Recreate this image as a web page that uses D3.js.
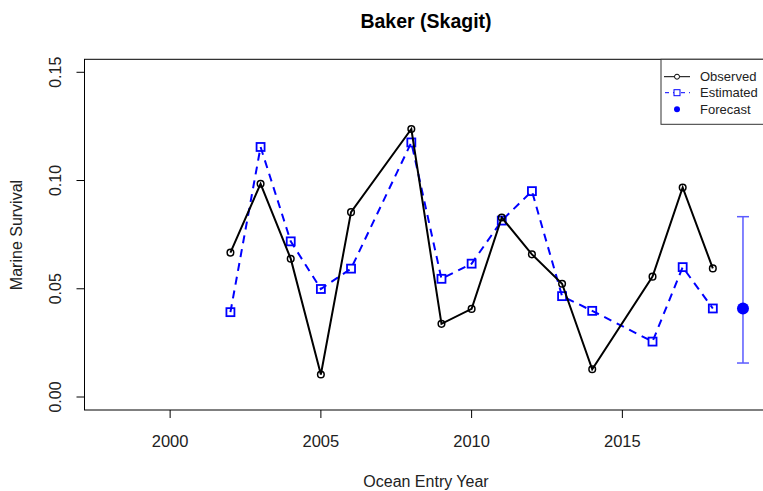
<!DOCTYPE html>
<html>
<head>
<meta charset="utf-8">
<script src="https://cdn.jsdelivr.net/npm/d3@7"></script>
<style>
  body { margin: 0; background: #fff; }
  text { font-family: "Liberation Sans", Arial, sans-serif; }
</style>
</head>
<body>
<div id="chart"></div>
<script>
// data
var years = [2002, 2003, 2004, 2005, 2006, 2008, 2009, 2010, 2011, 2012, 2013, 2014, 2016, 2017, 2018]
var observed = [0.0667, 0.0985, 0.0639, 0.0104, 0.0854, 0.1238, 0.0338, 0.0407, 0.0829, 0.0659, 0.0523, 0.0128, 0.0556, 0.0968, 0.0594]
var estimated = [0.0392, 0.1155, 0.0719, 0.0499, 0.0593, 0.1176, 0.0546, 0.0616, 0.0815, 0.0951, 0.0466, 0.0398, 0.0256, 0.0600, 0.0409]
var forecastYear = [2019]
var forecast = [0.0409]
var forecastLow = [0.0157]
var forecastHigh = [0.0833]
var xTicks = [2000, 2005, 2010, 2015]
var yTicks = [0.00, 0.05, 0.10, 0.15]

var width = 763
var height = 491
// plot box (right edge runs past the window, as in the reference)
var pLeft = 84.5, pTop = 59.3, pBottom = 410, pRight = 768.3

var svg = d3.select("#chart")
  .append("svg")
    .attr("width", width)
    .attr("height", height)

// R style axis extension of 4%
var x = d3.scaleLinear().domain([1997.16, 2019.84]).range([pLeft, pRight])
var y = d3.scaleLinear().domain([-0.006, 0.156]).range([pBottom, pTop])

// title
svg.append("text")
    .attr("x", 426)
    .attr("y", 27.5)
    .attr("text-anchor", "middle")
    .style("font-size", "19.5px")
    .style("font-weight", "bold")
    .text("Baker (Skagit)")

// x axis
svg.selectAll("xtick")
  .data(xTicks)
  .join("line")
    .attr("x1", function(d){ return x(d) })
    .attr("x2", function(d){ return x(d) })
    .attr("y1", pBottom)
    .attr("y2", pBottom + 8)
    .attr("stroke", "black")
svg.selectAll("xlab")
  .data(xTicks)
  .join("text")
    .attr("x", function(d){ return x(d) })
    .attr("y", 446.5)
    .attr("text-anchor", "middle")
    .style("font-size", "16.5px")
    .style("fill", "#222")
    .text(function(d){ return d })
svg.append("text")
    .attr("x", 426)
    .attr("y", 486.5)
    .attr("text-anchor", "middle")
    .style("font-size", "16px")
    .style("fill", "#222")
    .text("Ocean Entry Year")

// y axis
svg.selectAll("ytick")
  .data(yTicks)
  .join("line")
    .attr("x1", pLeft - 8)
    .attr("x2", pLeft)
    .attr("y1", function(d){ return y(d) })
    .attr("y2", function(d){ return y(d) })
    .attr("stroke", "black")
svg.selectAll("ylab")
  .data(yTicks)
  .join("text")
    .attr("transform", function(d){ return "translate(61," + y(d) + ") rotate(-90)" })
    .attr("text-anchor", "middle")
    .style("font-size", "16px")
    .style("fill", "#222")
    .text(function(d){ return d.toFixed(2) })
svg.append("text")
    .attr("transform", "translate(22,235) rotate(-90)")
    .attr("text-anchor", "middle")
    .style("font-size", "16px")
    .style("fill", "#222")
    .text("Marine Survival")

// plot box
svg.append("rect")
    .attr("x", pLeft)
    .attr("y", pTop)
    .attr("width", pRight - pLeft)
    .attr("height", pBottom - pTop)
    .attr("fill", "none")
    .attr("stroke", "black")

var obsData = years.map(function(d, i){ return [d, observed[i]] })
var estData = years.map(function(d, i){ return [d, estimated[i]] })
var line = d3.line()
  .x(function(d){ return x(d[0]) })
  .y(function(d){ return y(d[1]) })

// estimated
svg.append("path")
    .attr("d", line(estData))
    .attr("fill", "none")
    .attr("stroke", "#0000ff")
    .attr("stroke-width", 2)
    .attr("stroke-dasharray", "8,6")
svg.selectAll("estPts")
  .data(estData)
  .join("rect")
    .attr("x", function(d){ return x(d[0]) - 4 })
    .attr("y", function(d){ return y(d[1]) - 4 })
    .attr("width", 8)
    .attr("height", 8)
    .attr("fill", "none")
    .attr("stroke", "#0000ff")
    .attr("stroke-width", 1.8)

// observed
svg.append("path")
    .attr("d", line(obsData))
    .attr("fill", "none")
    .attr("stroke", "black")
    .attr("stroke-width", 2)
svg.selectAll("obsPts")
  .data(obsData)
  .join("circle")
    .attr("cx", function(d){ return x(d[0]) })
    .attr("cy", function(d){ return y(d[1]) })
    .attr("r", 3.3)
    .attr("fill", "none")
    .attr("stroke", "black")
    .attr("stroke-width", 1.5)

// forecast with interval
var fc = forecastYear.map(function(d, i){ return {x: d, v: forecast[i], lo: forecastLow[i], hi: forecastHigh[i]} })
var fg = svg.selectAll("fc").data(fc).join("g")
fg.append("line")
    .attr("x1", function(d){ return x(d.x) })
    .attr("x2", function(d){ return x(d.x) })
    .attr("y1", function(d){ return y(d.lo) })
    .attr("y2", function(d){ return y(d.hi) })
    .attr("stroke", "#5b5bff")
    .attr("stroke-width", 1.5)
fg.append("line")
    .attr("x1", function(d){ return x(d.x) - 6 })
    .attr("x2", function(d){ return x(d.x) + 6 })
    .attr("y1", function(d){ return y(d.lo) })
    .attr("y2", function(d){ return y(d.lo) })
    .attr("stroke", "#5b5bff")
    .attr("stroke-width", 1.5)
fg.append("line")
    .attr("x1", function(d){ return x(d.x) - 6 })
    .attr("x2", function(d){ return x(d.x) + 6 })
    .attr("y1", function(d){ return y(d.hi) })
    .attr("y2", function(d){ return y(d.hi) })
    .attr("stroke", "#5b5bff")
    .attr("stroke-width", 1.5)
fg.append("circle")
    .attr("cx", function(d){ return x(d.x) })
    .attr("cy", function(d){ return y(d.v) })
    .attr("r", 6)
    .attr("fill", "#0000ff")

// legend
var lg = svg.append("g")
lg.append("rect")
    .attr("x", 661)
    .attr("y", pTop)
    .attr("width", 110)
    .attr("height", 65)
    .attr("fill", "white")
    .attr("stroke", "#333")
var legY = [76.7, 92.7, 109.3]
lg.append("line").attr("x1", 664).attr("x2", 690).attr("y1", legY[0]).attr("y2", legY[0]).attr("stroke", "black")
lg.append("circle").attr("cx", 677).attr("cy", legY[0]).attr("r", 2.5).attr("fill", "white").attr("stroke", "black")
lg.append("line").attr("x1", 664).attr("x2", 690).attr("y1", legY[1]).attr("y2", legY[1])
    .attr("stroke", "#0000ff").attr("stroke-dasharray", "4,4").attr("stroke-dashoffset", -1)
lg.append("rect").attr("x", 674).attr("y", legY[1] - 3).attr("width", 6).attr("height", 6)
    .attr("fill", "white").attr("stroke", "#0000ff")
lg.append("circle").attr("cx", 677).attr("cy", legY[2]).attr("r", 3).attr("fill", "#0000ff")
lg.selectAll("legText")
  .data(["Observed", "Estimated", "Forecast"])
  .join("text")
    .attr("x", 700)
    .attr("y", function(d, i){ return legY[i] + 4.5 })
    .style("font-size", "13px")
    .style("fill", "#222")
    .text(function(d){ return d })
</script>
</body>
</html>
